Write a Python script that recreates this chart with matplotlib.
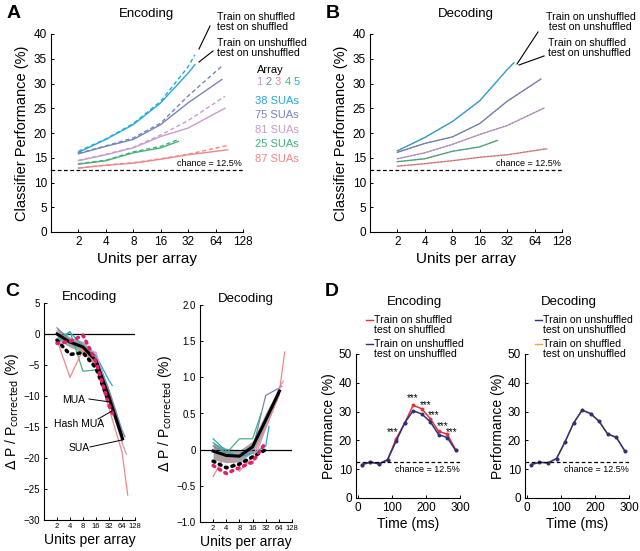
import matplotlib
matplotlib.use("Agg")
import matplotlib.pyplot as plt
import numpy as np

plt.rcParams['font.family'] = ['Liberation Sans', 'DejaVu Sans']
plt.rcParams['axes.linewidth'] = 0.8

W, H = 640, 551

# ---- colours per array ----
array_names = ['1', '2', '3', '4', '5']
array_colors = {'1': '#c89ccb', '2': '#7783b9', '3': '#f08787', '4': '#45b27b', '5': '#24a9d9'}
sua_counts = {'5': 38, '2': 75, '1': 81, '4': 25, '3': 87}
legend_order = ['5', '2', '1', '4', '3']

base_units = [2, 4, 8, 16, 32]

def units_for(a):
    n = sua_counts[a]
    return [u for u in base_units if u < n] + [n]

# ---- panel A: encoding (solid = unshuffled, dashed = shuffled) ----
enc_solid = {
    '5': [16.1, 18.7, 21.7, 26.1, 32.1, 33.8],
    '2': [15.8, 17.3, 18.7, 21.7, 26.1, 30.8],
    '1': [14.4, 15.6, 17.0, 19.3, 21.0, 25.0],
    '4': [13.7, 14.4, 16.0, 17.0, 18.3],
    '3': [12.9, 13.5, 13.9, 14.7, 15.6, 16.6],
}
enc_dashed = {
    '5': [16.3, 18.8, 21.9, 26.4, 33.4, 35.8],
    '2': [15.9, 17.4, 19.0, 22.0, 27.5, 33.5],
    '1': [14.5, 15.7, 17.1, 19.6, 22.5, 27.4],
    '4': [13.8, 14.5, 16.2, 17.3, 18.7],
    '3': [12.95, 13.5, 14.0, 14.8, 15.7, 17.5],
}

# ---- panel B: decoding ----
dec_solid = {
    '5': [16.4, 19.1, 22.3, 26.5, 32.8, 34.2],
    '2': [16.1, 17.9, 19.2, 21.9, 26.4, 30.9],
    '1': [14.8, 16.0, 17.7, 19.7, 21.5, 25.0],
    '4': [14.2, 14.8, 16.3, 17.2, 18.5],
    '3': [13.3, 13.8, 14.4, 15.1, 15.6, 16.8],
}
dec_dashed = {
    '5': [16.4, 19.1, 22.3, 26.5, 32.8, 34.2],
    '2': [16.1, 17.9, 19.2, 21.9, 26.4, 30.9],
    '1': [14.8, 16.0, 17.7, 19.7, 21.5, 25.1],
    '4': [14.2, 14.8, 16.3, 17.2, 18.5],
    '3': [13.3, 13.8, 14.4, 15.1, 15.6, 16.9],
}

# ---- panel C: relative change ----
pooled_units = [2, 4, 8, 16, 32, 66]
mua_units = [2, 4, 8, 16, 32]
hash_units = [2, 4, 8, 16, 32, 40]

encC_arrays = {
    '3': [-1.0, -7.0, -2.5, -5.0, -12.0, -19.0, -26.0],
    '4': [-1.0, 0.4, -6.0, -5.8, -8.5],
    '5': [-1.5, 0.3, -2.0, -3.5, -7.5, -8.3],
    '2': [1.0, -1.0, -2.0, -3.5, -9.0, -15.5, -16.6],
    '1': [0.5, -1.2, -2.2, -3.0, -10.0, -17.5, -19.4],
}
encC_sua = [0.0, -1.3, -2.1, -4.3, -10.2, -16.9]
encC_sua_err = [0.9, 0.8, 0.9, 1.0, 1.2, 0.9]
encC_mua = [-1.0, -3.3, -3.0, -5.5, -11.0]
encC_hash = [-1.5, -1.2, -0.2, -4.5, -11.5, -13.0]

decC_arrays = {
    '3': [-0.37, -0.05, -0.30, -0.10, 0.30, 0.75, 1.35],
    '4': [0.10, -0.05, 0.15, 0.15, 0.50],
    '5': [0.15, -0.02, -0.10, -0.05, 0.05, 0.32],
    '2': [0.05, -0.05, -0.10, 0.00, 0.75, 0.85, 0.88],
    '1': [0.00, -0.10, -0.15, -0.20, 0.30, 0.85, 0.95],
}
decC_sua = [-0.02, -0.08, -0.09, 0.04, 0.41, 0.81]
decC_sua_err = [0.12, 0.10, 0.08, 0.08, 0.10, 0.05]
decC_mua = [-0.16, -0.25, -0.20, -0.10, 0.00]
decC_hash = [-0.22, -0.33, -0.25, -0.17, 0.10]

def unitsC(a):
    n = sua_counts[a]
    u = [2, 4, 8, 16, 32, 64]
    return [x for x in u if x < n] + [n]

# ---- panel D: time course ----
time_ms = [12.5, 37.5, 62.5, 87.5, 112.5, 137.5, 162.5, 187.5, 212.5, 237.5, 262.5, 287.5]
encD_shuf = [11.6, 12.6, 11.8, 13.2, 20.5, 25.9, 32.2, 31.0, 27.6, 23.1, 22.2, 16.7]
encD_unshuf = [11.6, 12.4, 11.9, 13.3, 19.7, 26.0, 30.3, 29.2, 26.5, 22.0, 21.0, 16.5]
decD_unshuf = [11.6, 12.4, 12.2, 13.7, 19.5, 26.0, 30.5, 29.3, 26.6, 22.2, 21.1, 16.4]
decD_shuf = [11.6, 12.4, 12.2, 13.7, 19.5, 26.0, 30.5, 29.3, 26.6, 22.2, 21.1, 16.4]
star_t = [103, 160, 200, 224, 249, 276]
star_y = [22.8, 34.6, 32.2, 28.9, 24.8, 22.8]

red = '#e8303c'
navy = '#2d3179'
orange = '#f2a43a'
chance = 12.5

fig = plt.figure(figsize=(W / 100, H / 100), dpi=100)


def add_ax(x0, y0, x1, y1):
    return fig.add_axes([x0 / W, 1 - y1 / H, (x1 - x0) / W, (y1 - y0) / H])


def style(ax, fs=7.5):
    ax.spines['top'].set_visible(False)
    ax.spines['right'].set_visible(False)
    ax.tick_params(direction='in', length=2.5, width=0.7, labelsize=fs, pad=3)


# ================= A and B =================
for panel, (x0, solid, dashed, title) in {
        'A': (51, enc_solid, enc_dashed, 'Encoding'),
        'B': (370, dec_solid, dec_dashed, 'Decoding')}.items():
    ax = add_ax(x0, 34, x0 + 192, 232)
    style(ax, 8.5)
    for a in legend_order:
        u = units_for(a)
        c = array_colors[a]
        ax.plot(u, solid[a], color=c, lw=1.0)
        if panel == 'A':
            ax.plot(u, dashed[a], color=c, lw=1.0, ls=(0, (3, 2)))
        else:
            ax.plot(u, dashed[a], color='#777777', lw=0.6, ls=(0, (2, 2)), alpha=0.8)
    ax.axhline(chance, color='k', lw=0.9, ls=(0, (3, 2)))
    ax.text(124, chance + 0.5, 'chance = 12.5%', fontsize=6.5, ha='right', va='bottom')
    ax.set_xscale('log', base=2)
    ax.set_xlim(1, 128)
    ax.set_ylim(0, 40)
    ax.set_xticks([2, 4, 8, 16, 32, 64, 128])
    ax.set_xticklabels(['2', '4', '8', '16', '32', '64', '128'])
    ax.minorticks_off()
    ax.set_yticks(range(0, 41, 5))
    ax.set_xlabel('Units per array', fontsize=11, labelpad=3)
    ax.set_ylabel('Classifier Performance (%)', fontsize=10.5, labelpad=3)
    ax.set_title(title, fontsize=9.5, pad=12)
    fig.text((x0 - 44) / W, 1 - 14 / H, panel, fontsize=14, fontweight='bold', va='center')

# A annotations
fig.text(217 / W, 1 - 22 / H, 'Train on shuffled\ntest on shuffled', fontsize=7.6, va='center', linespacing=0.95)
fig.text(217 / W, 1 - 48 / H, 'Train on unshuffled\ntest on unshuffled', fontsize=7.6, va='center', linespacing=0.95)
fig.add_artist(plt.Line2D([210 / W, 199 / W], [1 - 26 / H, 1 - 49 / H], color='k', lw=0.8))
fig.add_artist(plt.Line2D([213 / W, 199 / W], [1 - 51 / H, 1 - 62 / H], color='k', lw=0.8))
# array legend
fig.text(270 / W, 1 - 70 / H, 'Array', fontsize=8, ha='center', va='center')
for i, a in enumerate(array_names):
    fig.text((256 + i * 9.5) / W, 1 - 82 / H, a, fontsize=8, color=array_colors[a], va='center')
for i, a in enumerate(legend_order):
    fig.text(255 / W, 1 - (101 + i * 14.4) / H, '%d SUAs' % sua_counts[a], fontsize=8,
             color=array_colors[a], va='center')

# B annotations
fig.text(546 / W, 1 - 22 / H, 'Train on unshuffled\n test on unshuffled', fontsize=7.6, va='center', linespacing=0.95)
fig.text(548 / W, 1 - 48 / H, 'Train on shuffled\ntest on unshuffled', fontsize=7.6, va='center', linespacing=0.95)
fig.add_artist(plt.Line2D([538 / W, 517 / W], [1 - 32 / H, 1 - 64 / H], color='k', lw=0.8))
fig.add_artist(plt.Line2D([544 / W, 519 / W], [1 - 56 / H, 1 - 65 / H], color='k', lw=0.8))

# ================= C =================
dot = dict(lw=2.6, ls=(0, (0.5, 1.4)), dash_capstyle='round')
for key, (x0, y0, x1, y1, arrs, sua, err, mua, hsh, hunits, ylim, yt, title) in {
        'enc': (44, 303, 135, 520, encC_arrays, encC_sua, encC_sua_err, encC_mua, encC_hash,
                hash_units, (-30, 5), list(range(-30, 6, 5)), 'Encoding'),
        'dec': (200, 305, 292, 522, decC_arrays, decC_sua, decC_sua_err, decC_mua, decC_hash,
                mua_units, (-1.0, 2.0), [-1.0, -0.5, 0, 0.5, 1.0, 1.5, 2.0], 'Decoding')}.items():
    ax = add_ax(x0, y0, x1, y1)
    style(ax, 7)
    ax.tick_params(axis='x', labelsize=5.5, pad=2)
    ax.axhline(0, color='k', lw=0.9)
    s = np.array(sua)
    e = np.array(err)
    ax.fill_between(pooled_units, s - e, s + e, color='#9a9a9a', lw=0, alpha=0.9)
    for a in legend_order:
        ax.plot(unitsC(a), arrs[a], color=array_colors[a], lw=0.9)
    ax.plot(pooled_units, sua, color='k', lw=2.2)
    ax.plot(mua_units, mua, color='k', **dot)
    ax.plot(hunits, hsh, color='#e0206a', **dot)
    ax.set_xscale('log', base=2)
    ax.set_xlim(1, 128)
    ax.set_ylim(*ylim)
    ax.set_xticks([2, 4, 8, 16, 32, 64, 128])
    ax.set_xticklabels(['2', '4', '8', '16', '32', '64', '128'])
    ax.minorticks_off()
    ax.set_yticks(yt)
    if key == 'enc':
        ax.set_yticklabels(['\u221230', '\u221225', '\u221220', '\u221215', '\u221210', '\u22125', '0', '5'])
    else:
        ax.set_yticklabels(['\u22121.0', '\u22120.5', '0', '0.5', '1.0', '1.5', '2.0'])
    ax.set_xlabel('Units per array', fontsize=10, labelpad=2)
    ax.set_ylabel(r'$\Delta$ P / P$_{\rm corrected}$ (%)', fontsize=10, labelpad=2)
    ax.set_title(title, fontsize=9.5, pad=1)

fig.text(5 / W, 1 - 292 / H, 'C', fontsize=14, fontweight='bold', va='center')
fig.text(74 / W, 1 - 400 / H, 'MUA', fontsize=7.5, ha='center', va='center')
fig.text(79 / W, 1 - 424 / H, 'Hash MUA', fontsize=7.5, ha='center', va='center')
fig.text(79 / W, 1 - 448 / H, 'SUA', fontsize=7.5, ha='center', va='center')
fig.add_artist(plt.Line2D([89 / W, 110 / W], [1 - 399 / H, 1 - 402 / H], color='k', lw=0.7))
fig.add_artist(plt.Line2D([98 / W, 112 / W], [1 - 419 / H, 1 - 411 / H], color='k', lw=0.7))
fig.add_artist(plt.Line2D([90 / W, 122 / W], [1 - 447 / H, 1 - 440 / H], color='k', lw=0.7))

# ================= D =================
for key, (x0, series, title, labels) in {
        'enc': (356, [(encD_shuf, red), (encD_unshuf, navy)], 'Encoding',
                ['Train on shuffled\ntest on shuffled', 'Train on unshuffled\ntest on unshuffled']),
        'dec': (525, [(decD_shuf, orange), (decD_unshuf, navy)], 'Decoding',
                ['Train on unshuffled\ntest on unshuffled', 'Train on shuffled\ntest on unshuffled'])}.items():
    ax = add_ax(x0, 354, x0 + 104, 498)
    style(ax, 8.5)
    for vals, c in series:
        ax.plot(time_ms, vals, color=c, lw=1.1, marker='o', ms=1.8)
    if key == 'enc':
        for t, y in zip(star_t, star_y):
            ax.text(t, y, '***', fontsize=7, ha='center', va='center')
    ax.axhline(chance, color='k', lw=0.9, ls=(0, (3, 2)))
    ax.text(300, chance - 1.2, 'chance = 12.5%', fontsize=6.5, ha='right', va='top')
    ax.set_xlim(-5, 300)
    ax.set_ylim(0, 50)
    ax.set_xticks([0, 100, 200, 300])
    ax.set_yticks(range(0, 51, 10))
    ax.set_xlabel('Time (ms)', fontsize=10, labelpad=2)
    ax.set_ylabel('Performance (%)', fontsize=10, labelpad=2)
    leg_cols = [red, navy] if key == 'enc' else [navy, orange]
    for i, (lab, c) in enumerate(zip(labels, leg_cols)):
        yy = 320 + i * 24
        fig.add_artist(plt.Line2D([(x0 + 10) / W, (x0 + 17) / W], [1 - yy / H, 1 - yy / H], color=c, lw=1.0))
        fig.text((x0 + 18) / W, 1 - (yy + 5) / H, lab, fontsize=7.6, va='center', linespacing=0.95)
    fig.text((x0 + 58 if key == 'enc' else x0 + 44) / W, 1 - 302 / H, title, fontsize=9.5,
             ha='center', va='center')

fig.text(325 / W, 1 - 292 / H, 'D', fontsize=14, fontweight='bold', va='center')

fig.savefig('out.png', dpi=100)
